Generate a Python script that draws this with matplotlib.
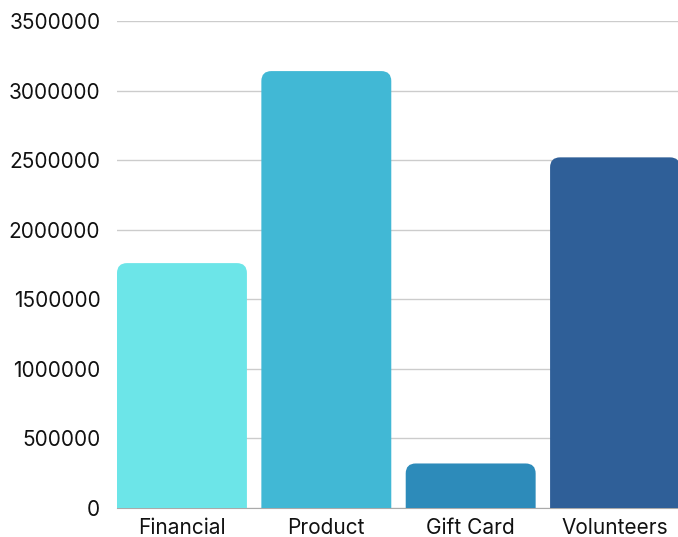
import matplotlib
matplotlib.use("Agg")
import matplotlib.pyplot as plt
from matplotlib.patches import PathPatch
from matplotlib.path import Path

categories = ["Financial", "Product", "Gift Card", "Volunteers"]
values = [1760000, 3140000, 320000, 2520000]
colors = ["#6ce5e8", "#41b8d5", "#2d8bba", "#2f5f98"]
yticks = [0, 500000, 1000000, 1500000, 2000000, 2500000, 3000000, 3500000]

plt.rcParams["font.family"] = ["Inter", "DejaVu Sans"]

fig = plt.figure(figsize=(6.78, 5.37), dpi=100)
ax = fig.add_axes([117 / 678, 1 - 508 / 537, 563 / 678, 487 / 537])

ax.set_xlim(-0.45, 3.45)
ax.set_ylim(0, 3500000)
bars = ax.bar(range(len(categories)), values, width=0.9, color=colors)

# swap the plain rectangles for ones with rounded top corners
fig.canvas.draw()
px_x = ax.transData.transform((1, 0))[0] - ax.transData.transform((0, 0))[0]
px_y = ax.transData.transform((0, 1000000))[1] - ax.transData.transform((0, 0))[1]
r = 10
rx = r / px_x
ry = r / px_y * 1000000
for b in bars:
    x0, y0 = b.get_x(), b.get_y()
    w, h = b.get_width(), b.get_height()
    x1, y1 = x0 + w, y0 + h
    verts = [(x0, y0), (x0, y1 - ry), (x0, y1), (x0 + rx, y1),
             (x1 - rx, y1), (x1, y1), (x1, y1 - ry), (x1, y0), (x0, y0)]
    codes = [Path.MOVETO, Path.LINETO, Path.CURVE3, Path.CURVE3,
             Path.LINETO, Path.CURVE3, Path.CURVE3, Path.LINETO, Path.CLOSEPOLY]
    ax.add_patch(PathPatch(Path(verts, codes), facecolor=b.get_facecolor(),
                           edgecolor="none", zorder=3))
    b.set_visible(False)

ax.set_yticks(yticks)
ax.set_yticklabels([str(v) for v in yticks])
ax.set_xticks(range(len(categories)))
ax.set_xticklabels(categories)
ax.grid(axis="y", color="#cccccc", linewidth=1)
ax.set_axisbelow(True)
for s in ["top", "right", "left"]:
    ax.spines[s].set_visible(False)
ax.spines["bottom"].set_color("#aaaaaa")
ax.tick_params(axis="y", length=0, pad=12, labelsize=15, labelcolor="#111111")
ax.tick_params(axis="x", length=0, pad=7, labelsize=15, labelcolor="#111111")

fig.savefig("out.png", dpi=100)
